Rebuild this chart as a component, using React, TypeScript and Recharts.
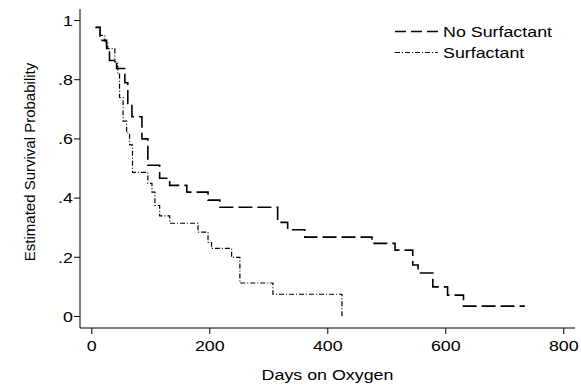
import { LineChart, Line, XAxis, YAxis } from 'recharts'

const FONT = '"Liberation Sans", Arial, Helvetica, sans-serif'
const STRETCH = 1.19

// Kaplan-Meier steps
const noSurfDays = [6, 14, 25, 30, 42, 56, 61, 68, 85, 95, 115, 132, 161, 197, 217, 315, 332, 361, 475, 514, 544, 553, 578, 603, 630, 734]
const noSurfSurv = [0.977, 0.933, 0.905, 0.865, 0.838, 0.79, 0.72, 0.675, 0.6, 0.511, 0.467, 0.443, 0.42, 0.393, 0.369, 0.318, 0.293, 0.268, 0.247, 0.224, 0.174, 0.147, 0.1, 0.072, 0.035, 0.035]

const surfDays = [7, 14, 22, 27, 39, 44, 47, 53, 59, 64, 69, 95, 102, 107, 115, 132, 180, 197, 203, 237, 251, 307, 424]
const surfSurv = [0.977, 0.95, 0.93, 0.905, 0.86, 0.82, 0.74, 0.66, 0.62, 0.58, 0.487, 0.45, 0.42, 0.375, 0.34, 0.315, 0.285, 0.25, 0.23, 0.2, 0.113, 0.075, 0]

const xTicks = [0, 200, 400, 600, 800]
const yTicks = [0, 0.2, 0.4, 0.6, 0.8, 1]

const noSurfData = noSurfDays.map((d, i) => ({ day: d, s: noSurfSurv[i] }))
const surfData = surfDays.map((d, i) => ({ day: d, s: surfSurv[i] }))

const fmtY = (v: number) => (v === 0 || v === 1 ? String(v) : String(v).replace(/^0/, ''))

function XTick({ x, y, payload }: any) {
  return (
    <g transform={`translate(${x},${y})`}>
      <text transform={`scale(${STRETCH},1)`} textAnchor="middle" dy="0.71em" fontSize={15} fill="#000" fontFamily={FONT}>
        {payload.value}
      </text>
    </g>
  )
}

function YTick({ x, y, payload }: any) {
  return (
    <g transform={`translate(${x},${y})`}>
      <text transform={`scale(${STRETCH},1)`} textAnchor="end" dy="0.355em" fontSize={15} fill="#000" fontFamily={FONT}>
        {fmtY(payload.value)}
      </text>
    </g>
  )
}

export default function App() {
  return (
    <div style={{ position: 'absolute', left: 0, top: 0, width: 581, height: 388, background: '#fff' }}>
      <LineChart width={581} height={388} margin={{ top: 9, right: 6, bottom: 0, left: 0 }}>
        <XAxis
          dataKey="day"
          type="number"
          domain={[-20, 819]}
          ticks={xTicks}
          allowDataOverflow
          height={60}
          stroke="#000"
          tickSize={6}
          tickMargin={6}
          tick={(p: any) => <XTick {...p} />}
        />
        <YAxis
          type="number"
          domain={[-0.039, 1.039]}
          ticks={yTicks}
          allowDataOverflow
          width={80}
          stroke="#000"
          tickSize={6}
          tickMargin={1}
          tick={(p: any) => <YTick {...p} />}
        />
        <Line
          data={noSurfData}
          dataKey="s"
          type="stepAfter"
          stroke="#000"
          strokeWidth={1.6}
          strokeDasharray="14 5"
          dot={false}
          isAnimationActive={false}
        />
        <Line
          data={surfData}
          dataKey="s"
          type="stepAfter"
          stroke="#000"
          strokeWidth={1.2}
          strokeDasharray="5 2 1 2"
          dot={false}
          isAnimationActive={false}
        />
      </LineChart>
      <svg width={581} height={388} style={{ position: 'absolute', left: 0, top: 0, pointerEvents: 'none' }}>
        <g fontFamily={FONT} fontSize={15} fill="#000">
          <line x1={395} x2={438} y1={31.5} y2={31.5} stroke="#000" strokeWidth={1.6} strokeDasharray="11 5" />
          <g transform={`translate(443,36.7) scale(${STRETCH},1)`}>
            <text>No Surfactant</text>
          </g>
          <line x1={395} x2={438} y1={52.5} y2={52.5} stroke="#000" strokeWidth={1.2} strokeDasharray="5 2 1 2" />
          <g transform={`translate(443,57.5) scale(${STRETCH},1)`}>
            <text>Surfactant</text>
          </g>
          <g transform={`translate(327.5,379.5) scale(${STRETCH},1)`}>
            <text textAnchor="middle">Days on Oxygen</text>
          </g>
          <g transform="translate(34.5,162) rotate(-90)">
            <text textAnchor="middle">Estimated Survival Probability</text>
          </g>
        </g>
      </svg>
    </div>
  )
}
